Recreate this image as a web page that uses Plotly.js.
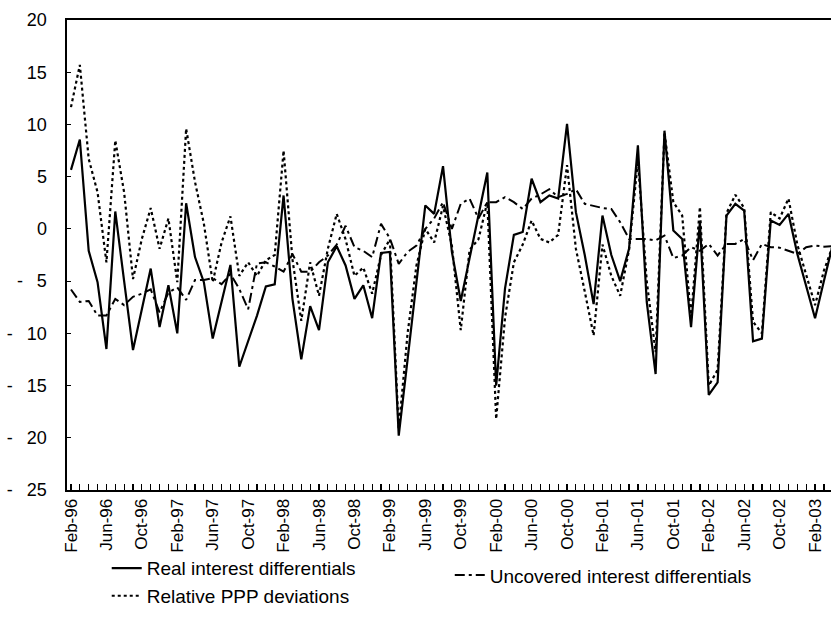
<!DOCTYPE html>
<html>
<head>
<meta charset="utf-8">
<script src="https://cdn.plot.ly/plotly-3.0.1.min.js"></script>
<style>html,body{margin:0;padding:0;background:#fff;}#chart{width:831px;height:636px;}</style>
</head>
<body>
<div id="chart"></div>
<script>
// Month index 0 = Feb-96 ... 86 = Apr-03
const tickLabels = ["Feb-96","Jun-96","Oct-96","Feb-97","Jun-97","Oct-97","Feb-98","Jun-98","Oct-98","Feb-99","Jun-99","Oct-99","Feb-00","Jun-00","Oct-00","Feb-01","Jun-01","Oct-01","Feb-02","Jun-02","Oct-02","Feb-03"];

const realInterest = [5.65,8.56,-2.1,-5.1,-11.5,1.67,-5.0,-11.6,-7.7,-3.8,
  -9.4,-5.4,-10.0,2.46,-2.7,-5.1,-10.5,-7.0,-3.45,-13.2,
  -10.8,-8.3,-5.5,-5.3,3.2,-6.7,-12.5,-7.4,-9.7,-3.2,
  -1.66,-3.5,-6.7,-5.4,-8.55,-2.3,-2.2,-19.8,-12.5,-5.0,
  2.24,1.44,6.0,-2.2,-6.9,-2.8,1.3,5.4,-15.0,-5.7,
  -0.57,-0.3,4.8,2.56,3.2,2.9,10.06,1.6,-2.5,-7.2,
  1.28,-2.5,-5.0,-1.9,8.0,-7.0,-13.9,9.4,-0.15,-0.96,
  -9.4,0.64,-15.9,-14.7,1.28,2.4,1.76,-10.76,-10.5,0.8,
  0.38,1.44,-2.4,-5.4,-8.55,-5.0,-1.5];

const uncoveredInterest = [-5.8,-7.0,-6.9,-8.3,-8.3,-6.7,-7.3,-6.5,-6.2,-5.8,
  -8.0,-6.1,-5.6,-6.8,-4.9,-4.9,-4.7,-5.3,-4.3,-5.75,
  -7.7,-3.3,-3.2,-3.6,-4.1,-2.4,-4.1,-4.1,-3.2,-2.55,
  -1.5,0.3,-1.75,-2.1,-2.7,0.48,-0.9,-3.35,-2.2,-1.6,
  0.0,1.0,2.56,0.0,2.4,2.9,1.0,2.56,2.56,3.04,
  2.56,1.9,2.9,3.3,3.8,3.04,3.35,3.8,2.4,2.2,
  2.0,1.9,0.64,-0.96,-0.96,-0.96,-1.1,-0.64,-2.8,-2.55,
  -1.75,-2.1,-1.44,-2.55,-1.44,-1.44,-0.96,-3.0,-1.44,-1.75,
  -1.8,-2.1,-2.4,-1.75,-1.6,-1.7,-1.66];

const relativePPP = [11.66,15.7,6.7,3.5,-3.2,8.47,3.5,-4.8,-0.96,2.0,
  -1.9,1.0,-5.1,9.6,4.5,0.5,-5.1,-1.3,1.2,-4.5,
  -3.2,-4.5,-3.0,-2.5,7.5,-2.9,-8.8,-3.2,-6.4,-1.9,
  1.44,-1.0,-4.5,-3.7,-6.2,-2.5,-1.0,-19.2,-10.0,-3.5,
  0.0,-1.3,2.2,-1.6,-9.7,-2.0,-1.0,2.56,-18.2,-8.5,
  -3.2,-1.5,0.8,-0.96,-1.3,-0.57,6.1,-1.9,-6.0,-10.2,
  -1.5,-4.5,-6.4,-2.0,6.55,-5.0,-11.8,9.26,2.56,1.28,
  -8.5,2.1,-15.0,-13.5,1.5,3.26,2.0,-8.9,-10.0,1.6,
  1.0,2.9,-1.5,-4.5,-7.3,-4.0,-1.6];

const yTickVals = [20,15,10,5,0,-5,-10,-15,-20,-25];
const yTickText = ["20","15","10","5","0","-\u2002\u00a05","-\u2002\u00a010","-\u2002\u00a015","-\u2002\u00a020","-\u2002\u00a025"];

const xIdx = realInterest.map((_, i) => i);
const tickVals = tickLabels.map((_, i) => i * 4);

const FONT = "Liberation Sans, Arial, sans-serif";

const traces = [
  {x: xIdx, y: realInterest, type: "scatter", mode: "lines", name: "Real interest differentials",
   legend: "legend", line: {color: "#000", width: 2.2, dash: "solid"}},
  {x: xIdx, y: relativePPP, type: "scatter", mode: "lines", name: "Relative PPP deviations",
   legend: "legend", line: {color: "#000", width: 2.2, dash: "dot"}},
  {x: xIdx, y: uncoveredInterest, type: "scatter", mode: "lines", name: "Uncovered interest differentials",
   legend: "legend2", line: {color: "#000", width: 2, dash: "10px,4px,3px,4px"}}
];

const legendFont = {size: 19, family: FONT, color: "#000"};

const layout = {
  width: 831, height: 636,
  margin: {l: 67, r: 0, t: 20, b: 146},
  paper_bgcolor: "#fff", plot_bgcolor: "#fff",
  font: {family: FONT, color: "#000", size: 18},
  showlegend: true,
  legend: {orientation: "v", x: 0.052, y: -0.126,
    xanchor: "left", yanchor: "top", font: legendFont, tracegroupgap: 0,
    bgcolor: "rgba(0,0,0,0)", traceorder: "normal"},
  legend2: {orientation: "v", x: 0.501, y: -0.141,
    xanchor: "left", yanchor: "top", font: legendFont, bgcolor: "rgba(0,0,0,0)"},
  xaxis: {range: [-0.45, 85.8], showgrid: false, zeroline: false, automargin: false,
    showline: true, linecolor: "#000", linewidth: 2, mirror: true,
    tickmode: "array", tickvals: tickVals, ticktext: tickLabels, tickangle: -90,
    ticks: "inside", ticklen: 6, tickwidth: 1.2, tickcolor: "#000",
    minor: {dtick: 1, tick0: 0, ticks: "inside", ticklen: 6, tickwidth: 1.2, tickcolor: "#000", showgrid: false},
    tickfont: {size: 17, family: FONT}},
  yaxis: {range: [-25, 20], showgrid: false, zeroline: false, automargin: false,
    showline: true, linecolor: "#000", linewidth: 2.5, mirror: false,
    tickmode: "array", tickvals: yTickVals, ticktext: yTickText,
    ticks: "inside", ticklen: 4, tickwidth: 1.2, tickcolor: "#000", ticklabelstandoff: 14,
    tickfont: {size: 18, family: FONT}}
};

Plotly.newPlot("chart", traces, layout, {staticPlot: true, displayModeBar: false});
</script>
</body>
</html>
